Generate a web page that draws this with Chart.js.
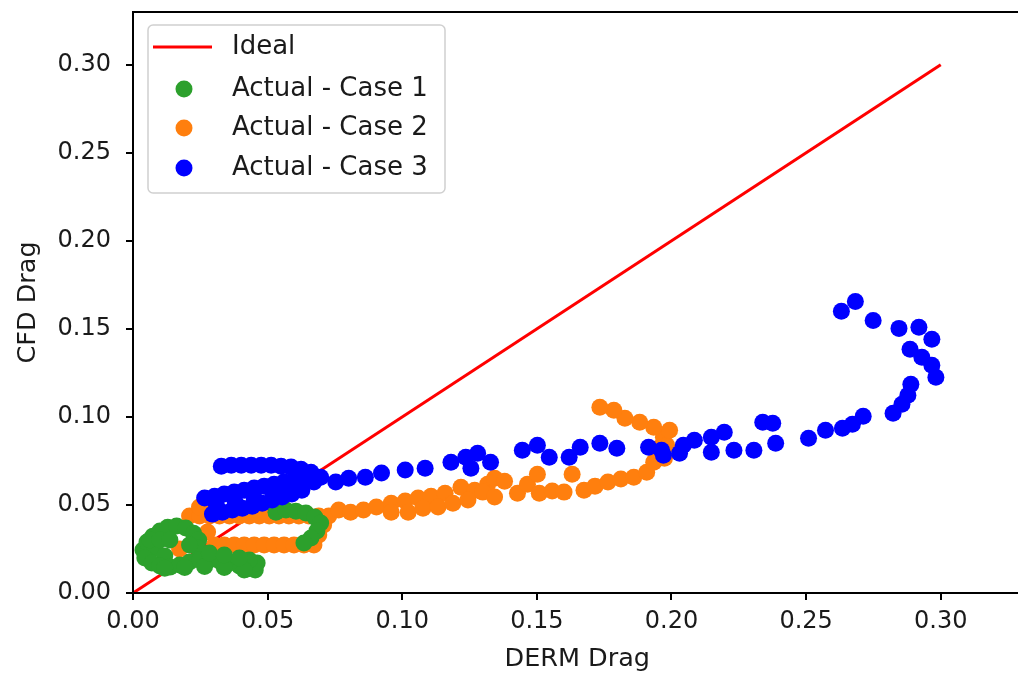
<!DOCTYPE html>
<html>
<head>
<meta charset="utf-8">
<script src="https://cdn.jsdelivr.net/npm/chart.js@4.4.0/dist/chart.umd.min.js"></script>
<style>
  html, body { margin: 0; padding: 0; background: #fff; overflow: hidden; }
  #wrap { position: relative; width: 1030px; height: 676px; }
</style>
</head>
<body>
<div id="wrap"><canvas id="chart"></canvas></div>
<script>
// --- Data ---
const seriesLabels = ['Ideal', 'Actual - Case 1', 'Actual - Case 2', 'Actual - Case 3'];
const seriesColors = ['#ff0000', '#2ca02c', '#ff7f0e', '#0000ff'];

const idealLine = [[0, 0], [0.30, 0.30]];

const case1Points = [
  [0.0037, 0.0244], [0.0052, 0.0289], [0.0074, 0.0323], [0.0100, 0.0352], [0.0129, 0.0374],
  [0.0162, 0.0380], [0.0196, 0.0369], [0.0225, 0.0340], [0.0244, 0.0301], [0.0240, 0.0255],
  [0.0081, 0.0255], [0.0118, 0.0210], [0.0063, 0.0301], [0.0100, 0.0301], [0.0137, 0.0301],
  [0.0210, 0.0272],
  [0.0044, 0.0199], [0.0070, 0.0170], [0.0100, 0.0153], [0.0137, 0.0147], [0.0173, 0.0159],
  [0.0210, 0.0176], [0.0247, 0.0187], [0.0284, 0.0187], [0.0321, 0.0182], [0.0358, 0.0170],
  [0.0395, 0.0153], [0.0424, 0.0136], [0.0454, 0.0130], [0.0461, 0.0170], [0.0432, 0.0187],
  [0.0118, 0.0140], [0.0192, 0.0145], [0.0266, 0.0150], [0.0339, 0.0145], [0.0413, 0.0130],
  [0.0284, 0.0227], [0.0339, 0.0216], [0.0395, 0.0199],
  [0.0531, 0.0459], [0.0568, 0.0471], [0.0605, 0.0465], [0.0642, 0.0454], [0.0675, 0.0431],
  [0.0697, 0.0397], [0.0683, 0.0352], [0.0661, 0.0312], [0.0635, 0.0284]
];

const case2Points = [
  [0.0173, 0.0250],
  [0.0210, 0.0437], [0.0247, 0.0437], [0.0284, 0.0437], [0.0321, 0.0437], [0.0358, 0.0437],
  [0.0395, 0.0437], [0.0432, 0.0437], [0.0469, 0.0437], [0.0506, 0.0437], [0.0542, 0.0437],
  [0.0579, 0.0437], [0.0616, 0.0437], [0.0653, 0.0437], [0.0690, 0.0437], [0.0727, 0.0437],
  [0.0247, 0.0488], [0.0292, 0.0499],
  [0.0303, 0.0272], [0.0339, 0.0272], [0.0376, 0.0272], [0.0413, 0.0272], [0.0450, 0.0272],
  [0.0487, 0.0272], [0.0524, 0.0272], [0.0561, 0.0272], [0.0598, 0.0272], [0.0635, 0.0272],
  [0.0672, 0.0272],
  [0.0277, 0.0346], [0.0708, 0.0386], [0.0690, 0.0329],
  [0.0764, 0.0471], [0.0808, 0.0459], [0.0856, 0.0471], [0.0904, 0.0488], [0.0959, 0.0510],
  [0.1011, 0.0522], [0.1059, 0.0539], [0.1107, 0.0550], [0.1159, 0.0567], [0.1218, 0.0601],
  [0.1269, 0.0584], [0.1317, 0.0618], [0.1343, 0.0652], [0.1299, 0.0573], [0.1343, 0.0545],
  [0.1380, 0.0635], [0.1428, 0.0567], [0.1465, 0.0618], [0.1502, 0.0675], [0.1509, 0.0567],
  [0.1557, 0.0579], [0.1601, 0.0573], [0.1631, 0.0675], [0.1675, 0.0584], [0.1716, 0.0607],
  [0.1764, 0.0630], [0.1812, 0.0647], [0.1860, 0.0658], [0.1908, 0.0686], [0.1934, 0.0743],
  [0.1952, 0.0822], [0.1970, 0.0885], [0.1934, 0.0942], [0.1882, 0.0970], [0.1827, 0.0993],
  [0.1786, 0.1038], [0.1734, 0.1055], [0.1982, 0.0839], [0.1974, 0.0766], [0.1993, 0.0925],
  [0.0959, 0.0459], [0.1022, 0.0459], [0.1077, 0.0482], [0.1133, 0.0488], [0.1188, 0.0510],
  [0.1244, 0.0528]
];

const case3Points = [
  [0.0328, 0.0720], [0.0365, 0.0726], [0.0402, 0.0726], [0.0439, 0.0726], [0.0476, 0.0726],
  [0.0513, 0.0726], [0.0550, 0.0720], [0.0587, 0.0715], [0.0624, 0.0703], [0.0661, 0.0686],
  [0.0697, 0.0658],
  [0.0266, 0.0539], [0.0303, 0.0550], [0.0339, 0.0562], [0.0376, 0.0573], [0.0413, 0.0584],
  [0.0450, 0.0596], [0.0487, 0.0607], [0.0524, 0.0618], [0.0561, 0.0630], [0.0598, 0.0641],
  [0.0635, 0.0641], [0.0672, 0.0630],
  [0.0295, 0.0448], [0.0332, 0.0459], [0.0369, 0.0471], [0.0406, 0.0482], [0.0443, 0.0493],
  [0.0480, 0.0510], [0.0517, 0.0528], [0.0554, 0.0545], [0.0590, 0.0562], [0.0627, 0.0584],
  [0.0310, 0.0499], [0.0380, 0.0516], [0.0450, 0.0539], [0.0520, 0.0567], [0.0590, 0.0596],
  [0.0753, 0.0630], [0.0801, 0.0652], [0.0863, 0.0658], [0.0923, 0.0681], [0.1011, 0.0698],
  [0.1085, 0.0709], [0.1181, 0.0743], [0.1236, 0.0771], [0.1280, 0.0794], [0.1255, 0.0709],
  [0.1328, 0.0743], [0.1446, 0.0811], [0.1502, 0.0839], [0.1546, 0.0771], [0.1620, 0.0771],
  [0.1661, 0.0828], [0.1734, 0.0851], [0.1797, 0.0822], [0.1915, 0.0828], [0.1970, 0.0783],
  [0.2030, 0.0794], [0.1963, 0.0811], [0.2044, 0.0839], [0.2085, 0.0868], [0.2148, 0.0885],
  [0.2196, 0.0913], [0.2148, 0.0800], [0.2232, 0.0811], [0.2306, 0.0811], [0.2339, 0.0970],
  [0.2376, 0.0964], [0.2387, 0.0851], [0.2509, 0.0879], [0.2572, 0.0925], [0.2635, 0.0936],
  [0.2672, 0.0959], [0.2712, 0.1004], [0.2823, 0.1021], [0.2856, 0.1072], [0.2878, 0.1123],
  [0.2889, 0.1185], [0.2982, 0.1225], [0.2967, 0.1293], [0.2930, 0.1339], [0.2886, 0.1384],
  [0.2967, 0.1441], [0.2919, 0.1509], [0.2845, 0.1503], [0.2749, 0.1548], [0.2683, 0.1656],
  [0.2631, 0.1600]
];

const xTicks = [0.00, 0.05, 0.10, 0.15, 0.20, 0.25, 0.30];
const yTicks = [0.00, 0.05, 0.10, 0.15, 0.20, 0.25, 0.30];
const axisMax = { x: 0.33, y: 0.33 };

const FONT = 'DejaVu Sans';
const TEXT = '#1a1a1a';
const DOT = 8.5;

function toXY(pairs) {
  return pairs.map(p => ({ x: p[0], y: p[1] }));
}

// --- Plugins: matplotlib-like frame and in-plot legend ---
const framePlugin = {
  id: 'frame',
  afterDatasetsDraw(chart) {
    const { ctx, chartArea: a } = chart;
    ctx.save();
    ctx.strokeStyle = '#000';
    ctx.lineWidth = 2;
    ctx.strokeRect(a.left, a.top, a.right - a.left, a.bottom - a.top);
    ctx.restore();
  }
};

const boxLegend = {
  id: 'boxLegend',
  afterDraw(chart) {
    const ctx = chart.ctx;
    const box = { x: 148, y: 25, w: 297, h: 168, r: 5 };
    ctx.save();
    ctx.beginPath();
    ctx.roundRect(box.x, box.y, box.w, box.h, box.r);
    ctx.fillStyle = 'rgba(255,255,255,0.8)';
    ctx.fill();
    ctx.strokeStyle = '#d0d0d0';
    ctx.lineWidth = 1.5;
    ctx.stroke();

    const rowsY = [47, 89, 128, 168];
    chart.data.datasets.forEach((ds, i) => {
      const y = rowsY[i];
      if (ds.showLine) {
        ctx.strokeStyle = ds.borderColor;
        ctx.lineWidth = 3;
        ctx.beginPath();
        ctx.moveTo(153, y);
        ctx.lineTo(212, y);
        ctx.stroke();
      } else {
        ctx.fillStyle = ds.backgroundColor;
        ctx.beginPath();
        ctx.arc(184, y, DOT, 0, Math.PI * 2);
        ctx.fill();
      }
      ctx.fillStyle = TEXT;
      ctx.font = '26px "' + FONT + '"';
      ctx.textBaseline = 'middle';
      ctx.textAlign = 'left';
      ctx.fillText(ds.label, 232, y);
    });
    ctx.restore();
  }
};

const pointSet = (i, pts, order) => ({
  label: seriesLabels[i],
  data: toXY(pts),
  backgroundColor: seriesColors[i],
  borderColor: seriesColors[i],
  pointRadius: DOT,
  pointBorderWidth: 0,
  pointHoverRadius: DOT,
  order: order
});

new Chart(document.getElementById('chart'), {
  type: 'scatter',
  data: {
    datasets: [
      {
        label: seriesLabels[0],
        data: toXY(idealLine),
        showLine: true,
        borderColor: seriesColors[0],
        backgroundColor: seriesColors[0],
        borderWidth: 3,
        pointRadius: 0,
        order: 4
      },
      pointSet(1, case1Points, 2),
      pointSet(2, case2Points, 3),
      pointSet(3, case3Points, 1)
    ]
  },
  options: {
    responsive: true,
    maintainAspectRatio: false,
    animation: false,
    layout: { padding: { top: 12, right: 3, left: 0, bottom: 0 } },
    plugins: {
      legend: { display: false },
      tooltip: { enabled: false }
    },
    scales: {
      x: {
        type: 'linear',
        min: 0,
        max: axisMax.x,
        afterFit: s => { s.height = 83; s.paddingLeft = 0; s.paddingRight = 0; },
        afterBuildTicks: s => { s.ticks = xTicks.map(v => ({ value: v })); },
        grid: { drawOnChartArea: false, drawTicks: true, tickLength: 7, color: '#000', lineWidth: 2 },
        border: { display: false },
        ticks: {
          padding: 7,
          color: TEXT,
          font: { family: FONT, size: 24 },
          maxRotation: 0,
          callback: v => Number(v).toFixed(2)
        },
        title: {
          display: true,
          text: 'DERM Drag',
          color: TEXT,
          font: { family: FONT, size: 25.5 },
          padding: { top: 0, bottom: 1 }
        }
      },
      y: {
        type: 'linear',
        min: 0,
        max: axisMax.y,
        afterFit: s => { s.width = 133; s.paddingTop = 0; s.paddingBottom = 0; },
        afterBuildTicks: s => { s.ticks = yTicks.map(v => ({ value: v })); },
        grid: { drawOnChartArea: false, drawTicks: true, tickLength: 7, color: '#000', lineWidth: 2 },
        border: { display: false },
        ticks: {
          padding: 15,
          color: TEXT,
          font: { family: FONT, size: 24 },
          callback: v => Number(v).toFixed(2)
        },
        title: {
          display: true,
          text: 'CFD Drag',
          color: TEXT,
          font: { family: FONT, size: 25.5 },
          padding: { top: 13, bottom: 0 }
        }
      }
    }
  },
  plugins: [framePlugin, boxLegend]
});
</script>
</body>
</html>
